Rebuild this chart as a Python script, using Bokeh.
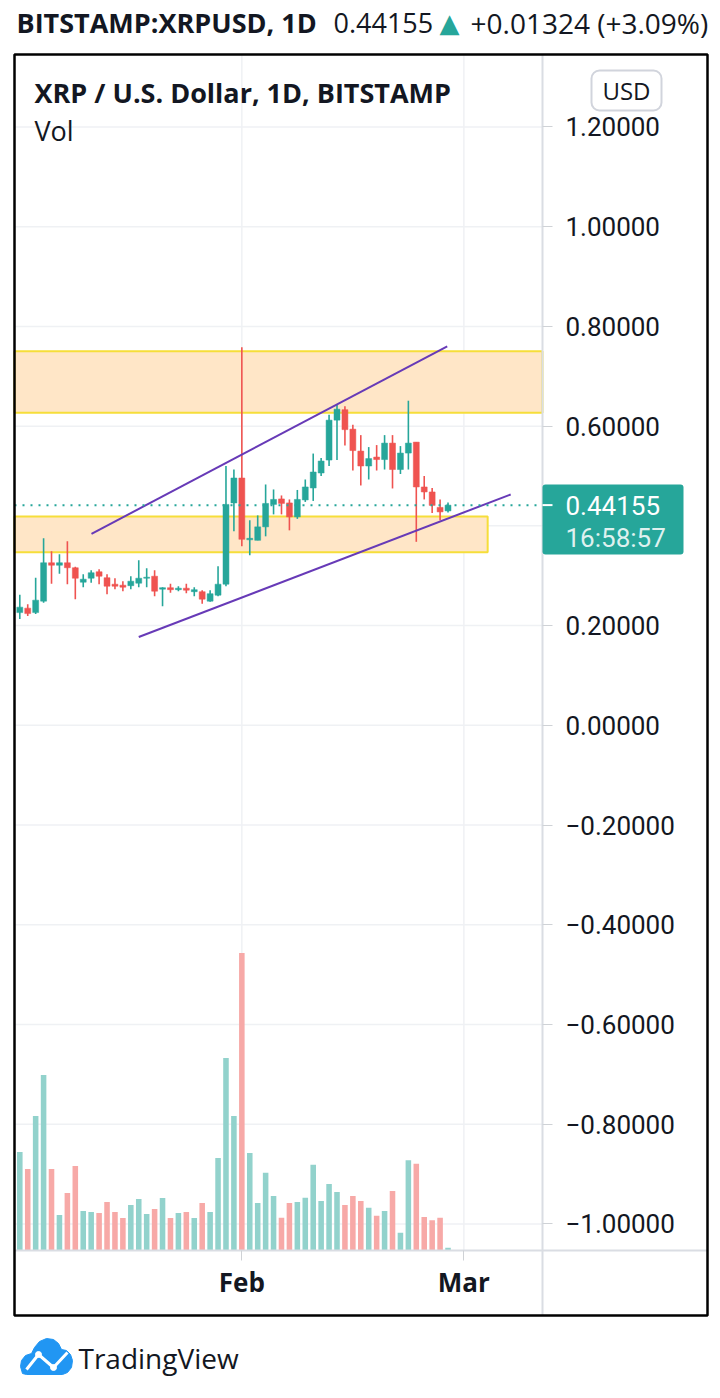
import numpy as np
import pandas as pd
from bokeh.plotting import figure
from bokeh.models import (Range1d, FixedTicker, CustomJSTickFormatter, Label,
                          BoxAnnotation, ColumnDataSource)
from bokeh.embed import file_html
from bokeh.resources import INLINE

# ---------------- data ----------------
opens = [0.226, 0.235, 0.226, 0.249, 0.326, 0.321, 0.326, 0.316, 0.287, 0.295,
         0.308, 0.296, 0.283, 0.281, 0.280, 0.285, 0.295, 0.299, 0.273, 0.276,
         0.272, 0.275, 0.268, 0.268, 0.249, 0.261, 0.283, 0.446, 0.496, 0.372,
         0.371, 0.398, 0.443, 0.454, 0.446, 0.418, 0.452, 0.476, 0.506, 0.532,
         0.612, 0.633, 0.594, 0.550, 0.520, 0.538, 0.533, 0.566, 0.513, 0.546,
         0.568, 0.478, 0.468, 0.437, 0.430]
highs = [0.262, 0.243, 0.296, 0.375, 0.349, 0.343, 0.369, 0.318, 0.303, 0.311,
         0.313, 0.303, 0.295, 0.289, 0.299, 0.331, 0.315, 0.311, 0.277, 0.284,
         0.279, 0.284, 0.277, 0.271, 0.271, 0.319, 0.520, 0.513, 0.758, 0.411,
         0.421, 0.483, 0.473, 0.461, 0.453, 0.472, 0.493, 0.545, 0.536, 0.623,
         0.643, 0.640, 0.603, 0.582, 0.558, 0.562, 0.582, 0.582, 0.560, 0.651,
         0.568, 0.500, 0.476, 0.453, 0.447]
lows = [0.213, 0.219, 0.223, 0.246, 0.284, 0.304, 0.283, 0.253, 0.277, 0.286,
        0.283, 0.263, 0.273, 0.269, 0.273, 0.277, 0.277, 0.259, 0.239, 0.266,
        0.269, 0.265, 0.259, 0.244, 0.248, 0.259, 0.279, 0.389, 0.359, 0.341,
        0.371, 0.379, 0.423, 0.423, 0.391, 0.414, 0.448, 0.450, 0.500, 0.520,
        0.532, 0.561, 0.511, 0.481, 0.493, 0.511, 0.513, 0.475, 0.504, 0.513,
        0.368, 0.453, 0.426, 0.411, 0.427]
closes = [0.237, 0.224, 0.251, 0.326, 0.321, 0.326, 0.316, 0.295, 0.293, 0.306,
          0.299, 0.279, 0.279, 0.277, 0.289, 0.295, 0.297, 0.269, 0.276, 0.272,
          0.275, 0.271, 0.272, 0.253, 0.264, 0.283, 0.443, 0.496, 0.373, 0.375,
          0.398, 0.445, 0.453, 0.445, 0.418, 0.453, 0.478, 0.508, 0.530, 0.612,
          0.634, 0.593, 0.551, 0.520, 0.535, 0.533, 0.566, 0.513, 0.546, 0.566,
          0.478, 0.468, 0.441, 0.428, 0.44155]
volumes = [394, 326, 538, 702, 326, 142, 230, 338, 158, 154,
           150, 194, 154, 130, 182, 206, 146, 166, 210, 130,
           150, 154, 130, 190, 154, 370, 770, 538, 1190, 390,
           190, 311, 218, 131, 190, 194, 211, 343, 198, 266,
           234, 182, 218, 198, 171, 139, 158, 238, 71, 361,
           347, 134, 121, 131, 11]
dates = list(pd.date_range("2021-01-04", periods=len(opens)).strftime("%Y-%m-%d"))

price_ticks = [-1.0, -0.8, -0.6, -0.4, -0.2, 0.0, 0.2, 0.4, 0.6, 0.8, 1.0, 1.2]
time_ticks = [28, 56]
time_labels = ["Feb", "Mar"]

zone_left = [-0.668, -0.668]
zone_right = [65.91, 59]
zone_top = [0.750, 0.419]
zone_bottom = [0.627, 0.347]

trend_x0 = [9.04, 15.0]
trend_y0 = [0.384, 0.177]
trend_x1 = [53.9, 61.9]
trend_y1 = [0.760, 0.463]

header_symbol = "BITSTAMP:XRPUSD, 1D"
header_price = "0.44155"
header_change = "+0.01324 (+3.09%)"
pane_title = "XRP / U.S. Dollar, 1D, BITSTAMP"
countdown = "16:58:57"

# ---------------- layout / styles ----------------
W, H = 712, 1390
PANE_L, PANE_R = -0.668, 65.91        # price pane in day units
PANE_B, PANE_T = -1.0529, 1.3454      # price pane in price units
BOX_R, BOX_B = 86.72, -1.1837         # outer box (incl. scales)

UP = "#26a69a"
DOWN = "#ef5350"
UP_VOL = "#92d2cc"
DOWN_VOL = "#f7a9a7"
TXT = "#131722"
GRID = "#eff1f4"
SEP = "#dadde3"

n = len(opens)
x = list(range(n))
up = [c >= o for o, c in zip(opens, closes)]
src = ColumnDataSource(dict(
    x=x, date=dates, open=opens, high=highs, low=lows, close=closes, vol=volumes,
    top=[max(o, c) for o, c in zip(opens, closes)],
    bottom=[min(o, c) for o, c in zip(opens, closes)],
    color=[UP if u else DOWN for u in up],
    vcolor=[UP_VOL if u else DOWN_VOL for u in up],
))

p = figure(frame_width=W, frame_height=H,
           min_border_left=0, min_border_right=0,
           min_border_top=0, min_border_bottom=0,
           x_range=Range1d(-2.4338, 87.352), y_range=Range1d(-1.33414, 1.45367),
           y_axis_location="right", toolbar_location=None,
           output_backend="svg", title=None)
p.extra_y_ranges = {"vol": Range1d(-560, 5000), "py": Range1d(H, 0)}
p.extra_x_ranges = {"px": Range1d(0, W)}
p.outline_line_color = None
p.background_fill_color = "white"
p.border_fill_color = "white"
p.xgrid.visible = False
p.ygrid.visible = False

# price scale (drawn at the pane's right edge)
ya = p.yaxis[0]
ya.fixed_location = PANE_R
ya.bounds = (BOX_B, PANE_T)
ya.ticker = FixedTicker(ticks=price_ticks)
ya.formatter = CustomJSTickFormatter(
    code="return (tick < -1e-9 ? '\u2212' : '') + Math.abs(tick).toFixed(5);")
ya.axis_line_color = SEP
ya.axis_line_width = 2
ya.major_tick_line_color = "#cfd2d6"
ya.major_tick_out = 10
ya.major_tick_in = 0
ya.minor_tick_line_color = None
ya.major_label_text_font = "Roboto"
ya.major_label_text_font_size = "26px"
ya.major_label_text_color = TXT
ya.major_label_standoff = 13

# time scale (drawn at the pane's bottom edge)
xa = p.xaxis[0]
xa.fixed_location = PANE_B
xa.bounds = (PANE_L, BOX_R)
xa.ticker = FixedTicker(ticks=time_ticks)
xa.major_label_overrides = {t: l for t, l in zip(time_ticks, time_labels)}
xa.axis_line_color = SEP
xa.axis_line_width = 2
xa.major_tick_line_color = "#cfd2d6"
xa.major_tick_out = 10
xa.major_tick_in = 0
xa.minor_tick_line_color = None
xa.major_label_text_font = "Open Sans"
xa.major_label_text_font_style = "bold"
xa.major_label_text_font_size = "26px"
xa.major_label_text_color = TXT
xa.major_label_standoff = 4

# grid lines, limited to the price pane
p.segment(x0=[PANE_L] * len(price_ticks), x1=[PANE_R] * len(price_ticks),
          y0=price_ticks, y1=price_ticks, line_color=GRID, line_width=1.5)
p.segment(x0=time_ticks, x1=time_ticks, y0=[PANE_B] * len(time_ticks),
          y1=[PANE_T] * len(time_ticks), line_color=GRID, line_width=1.5)

# zones
p.quad(left=zone_left, right=zone_right, top=zone_top, bottom=zone_bottom,
       fill_color="#ffe6c7", fill_alpha=1.0, line_color="#f6de3a", line_width=2)

# volume
p.vbar(x="x", top="vol", bottom=0, width=0.7, fill_color="vcolor",
       line_color=None, y_range_name="vol", source=src)

# candles
p.segment(x0="x", y0="high", x1="x", y1="low", line_color="color",
          line_width=1.6, source=src)
p.vbar(x="x", top="top", bottom="bottom", width=0.75, fill_color="color",
       line_color="color", line_width=0.5, source=src)

# trend lines
p.segment(x0=trend_x0, y0=trend_y0, x1=trend_x1, y1=trend_y1,
          line_color="#673ab7", line_width=2)

# last price line
p.segment(x0=[PANE_L], x1=[PANE_R], y0=[closes[-1]], y1=[closes[-1]],
          line_color=UP, line_dash="2 6", line_width=2)


def box(l, r, t, b, **kw):
    kw.setdefault("line_alpha", 1.0)
    kw.setdefault("fill_alpha", 1.0)
    p.add_layout(BoxAnnotation(left=l, right=r, top=t, bottom=b,
                               x_range_name="px", y_range_name="py", **kw))


def label(xx, yy, text, **kw):
    kw.setdefault("text_color", TXT)
    kw.setdefault("text_font", "Open Sans")
    kw.setdefault("text_baseline", "middle")
    p.add_layout(Label(x=xx, y=yy, text=text, x_range_name="px",
                       y_range_name="py", **kw))


# outer border
box(14, 707, 54, 1315, fill_alpha=0, line_color="#000000", line_width=2.5)

# price tag
box(542, 683, 484, 554, fill_color=UP, line_color=None, border_radius=3)
box(542, 552, 503.6, 505.6, fill_color="white", line_color=None)
label(565, 505, header_price, text_font="Roboto", text_font_size="26px",
      text_color="white")
label(565, 537, countdown, text_font="Roboto", text_font_size="26px",
      text_color="#dff1ef")

# USD button
box(591, 661, 70, 110, fill_color="white", line_color="#d1d4dc",
    line_width=2, border_radius=8)
label(626, 90, "USD", text_align="center", text_font_size="24px")

# header
label(16, 22, header_symbol, text_font_style="bold", text_font_size="27px")
label(333, 22, header_price, text_font_size="27px")
label(439, 22, "\u25B2", text_font="DejaVu Sans", text_font_size="26px",
      text_color=UP)
label(470, 22, header_change, text_font_size="28px")

# pane legend
label(34, 92, pane_title, text_font_style="bold", text_font_size="27px")
label(34, 130, "Vol", text_font_size="27px")

# TradingView logo
cloud_x = [22, 20, 21, 25, 31, 34, 39, 46, 53, 58, 61, 66, 70, 72, 71, 67, 62, 26]
cloud_y = [1373, 1366, 1360, 1355, 1353, 1347, 1341, 1338, 1339, 1343, 1349,
           1350, 1354, 1360, 1367, 1372, 1374, 1374]
p.patch(cloud_x, cloud_y, x_range_name="px", y_range_name="py",
        fill_color="#2196f3", line_color="#2196f3", line_width=1)
zig_x = [26, 38, 53, 67]
zig_y = [1369, 1354, 1367, 1352]
p.line(zig_x, zig_y, x_range_name="px", y_range_name="py",
       line_color="white", line_width=3)
p.scatter(zig_x[1:3], zig_y[1:3], x_range_name="px", y_range_name="py",
          size=6, fill_color="white", line_color="white")
label(78, 1357, "TradingView", text_font_size="28px")

open("out.html", "w").write(file_html(p, INLINE))
